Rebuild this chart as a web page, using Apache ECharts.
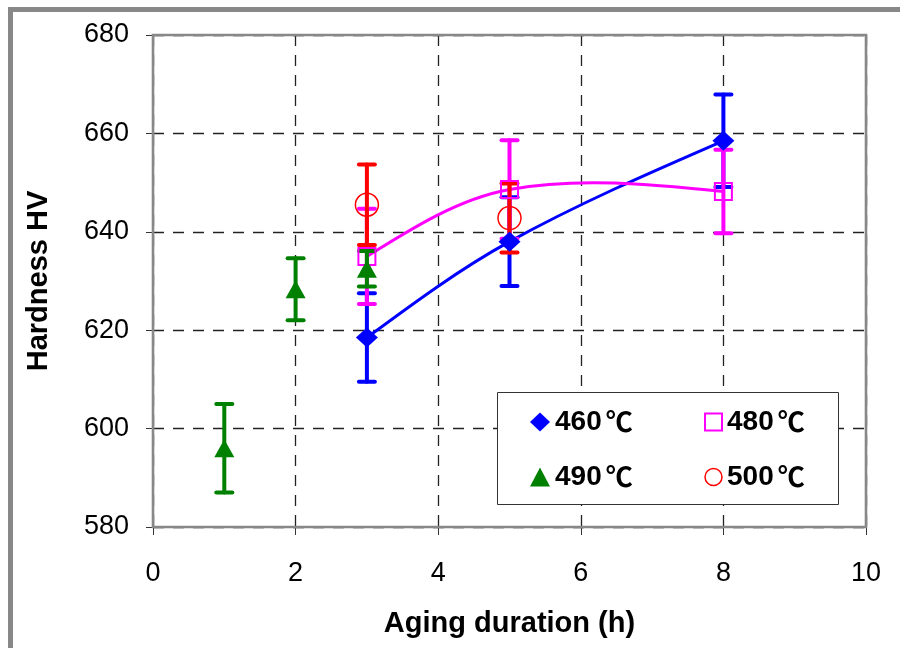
<!DOCTYPE html>
<html>
<head>
<meta charset="utf-8">
<script src="https://cdn.jsdelivr.net/npm/echarts@6/dist/echarts.min.js"></script>
<style>html,body{margin:0;padding:0;background:#fff}#c{width:900px;height:648px}</style>
</head>
<body>
<div id="c"></div>
<script>
// ---- data ----
const xTicks = [0, 2, 4, 6, 8, 10];
const yTicks = [580, 600, 620, 640, 660, 680];

const names = ['460℃', '480℃', '490℃', '500℃'];

const x460 = [3, 5, 8];
const y460 = [618.5, 638, 658.5];
const e460 = [9, 9, 9.4];

const x480 = [3, 5, 8];
const y480 = [635, 648.6, 648.2];
const e480 = [9.7, 10, 8.5];

const x490 = [1, 2, 3];
const y490 = [596, 628.3, 632.5];
const e490 = [9, 6.3, 3.6];

const x500 = [3, 5];
const y500 = [645.5, 642.8];
const e500 = [8.2, 7];

// ---- build ----
const pts = (xs, ys) => xs.map((x, i) => [x, ys[i]]);
const errs = (xs, ys, es) => xs.map((x, i) => [x, ys[i], es[i]]);

function errSeries(name, color, data) {
  return {
    type: 'custom',
    name: name + ' err',
    data: data,
    encode: { x: 0, y: 1 },
    z: 2,
    silent: true,
    renderItem: function (params, api) {
      const x = api.value(0), y = api.value(1), e = api.value(2);
      const top = api.coord([x, y + e]);
      const bot = api.coord([x, y - e]);
      const hw = 8;
      const st = { stroke: color, lineWidth: 4, lineCap: 'round' };
      return {
        type: 'group',
        children: [
          { type: 'line', shape: { x1: top[0], y1: top[1], x2: bot[0], y2: bot[1] }, style: st },
          { type: 'line', shape: { x1: top[0] - hw, y1: top[1], x2: top[0] + hw, y2: top[1] }, style: st },
          { type: 'line', shape: { x1: bot[0] - hw, y1: bot[1], x2: bot[0] + hw, y2: bot[1] }, style: st }
        ]
      };
    }
  };
}

// Excel-like smoothed line (spline through the data points, in pixel space)
function smoothSeries(name, color, xs, ys) {
  return {
    type: 'custom',
    name: name + ' line',
    data: pts(xs, ys),
    encode: { x: 0, y: 1 },
    z: 2,
    silent: true,
    renderItem: function (params, api) {
      const i = params.dataIndex;
      const n = xs.length;
      if (i >= n - 1) return null;
      const P = xs.map((x, k) => api.coord([x, ys[k]]));
      const sub = (a, b) => [a[0] - b[0], a[1] - b[1]];
      const len = (v) => Math.sqrt(v[0] * v[0] + v[1] * v[1]);
      function tan(j, dir) {
        if (j > 0 && j < n - 1) {
          const v = sub(P[j + 1], P[j - 1]);
          const d0 = len(sub(P[j], P[j - 1])), d1 = len(sub(P[j + 1], P[j]));
          const r = dir > 0 ? d1 / (d0 + d1) : d0 / (d0 + d1);
          return [v[0] * r, v[1] * r];
        }
        return null;
      }
      let t1 = tan(i, 1), t2 = tan(i + 1, -1);
      const seg = sub(P[i + 1], P[i]);
      if (!t1 && t2) t1 = [(3 * seg[0] - t2[0]) / 2, (3 * seg[1] - t2[1]) / 2];
      if (!t2 && t1) t2 = [(3 * seg[0] - t1[0]) / 2, (3 * seg[1] - t1[1]) / 2];
      if (!t1 && !t2) { t1 = seg; t2 = seg; }
      return {
        type: 'bezierCurve',
        shape: {
          x1: P[i][0], y1: P[i][1], x2: P[i + 1][0], y2: P[i + 1][1],
          cpx1: P[i][0] + t1[0] / 3, cpy1: P[i][1] + t1[1] / 3,
          cpx2: P[i + 1][0] - t2[0] / 3, cpy2: P[i + 1][1] - t2[1] / 3
        },
        style: { stroke: color, lineWidth: 3, fill: null }
      };
    }
  };
}

const chart = echarts.init(document.getElementById('c'), null, { renderer: 'canvas' });

const axisFont = { fontFamily: 'Liberation Sans, Arial, sans-serif', fontSize: 27, color: '#000' };
const nameFont = { fontFamily: 'Liberation Sans, Arial, sans-serif', fontSize: 29, fontWeight: 'bold', color: '#000' };
const legendText = {
  fontFamily: 'Liberation Sans, Arial, sans-serif', fontSize: 28, fontWeight: 'bold', color: '#000', lineHeight: 30,
  rich: {
    a: { fontFamily: 'Liberation Sans, Arial, sans-serif', fontSize: 28, fontWeight: 'bold', color: '#000', lineHeight: 30, padding: [0, 4, 0, 0] },
    b: { fontFamily: '"Noto Sans CJK SC", "DejaVu Sans", sans-serif', fontSize: 27, fontWeight: 'bold', color: '#000', lineHeight: 30 }
  }
};
const legendFmt = function (name) {
  const num = name.replace('℃', '');
  return '{a|' + num + '}{b|℃}';
};

const option = {
  backgroundColor: '#fff',
  animation: false,
  grid: { left: 153, top: 35, right: 34, bottom: 121, containLabel: false },
  graphic: [
    { type: 'rect', z: 100,
      shape: { x: 10.5, y: 9.5, width: 2000, height: 2000 },
      style: { fill: 'none', stroke: '#888', lineWidth: 5 } },
    { type: 'rect', z: 10,
      shape: { x: 153, y: 35, width: 713, height: 492 },
      style: { fill: 'none', stroke: '#888', lineWidth: 2.6 } },
    { type: 'rect', z: 11,
      shape: { x: 497.5, y: 392.5, width: 341, height: 112 },
      style: { fill: '#fff', stroke: '#333', lineWidth: 1 } }
  ],
  xAxis: {
    type: 'value', min: xTicks[0], max: xTicks[xTicks.length - 1], interval: 2,
    name: 'Aging duration (h)', nameLocation: 'middle', nameGap: 82, nameTextStyle: nameFont,
    axisLine: { show: false },
    axisTick: { show: true, length: 8, lineStyle: { color: '#333', width: 1 } },
    axisLabel: Object.assign({ margin: 33 }, axisFont),
    splitLine: { show: true, lineStyle: { color: '#222', width: 1.3, type: [11, 9] } }
  },
  yAxis: {
    type: 'value', min: yTicks[0], max: yTicks[yTicks.length - 1], interval: 20,
    name: 'Hardness HV', nameLocation: 'middle', nameGap: 100, nameRotate: 90, nameTextStyle: nameFont,
    axisLine: { show: false },
    axisTick: { show: true, length: 7, lineStyle: { color: '#333', width: 1 } },
    axisLabel: Object.assign({ margin: 24 }, axisFont),
    splitLine: { show: true, lineStyle: { color: '#222', width: 1.3, type: [11, 9] } }
  },
  legend: [
    {
      orient: 'vertical', left: 530, top: 407, padding: 0, itemGap: 25,
      itemWidth: 20, itemHeight: 19, selectedMode: false, z: 20,
      textStyle: legendText, formatter: legendFmt,
      data: [
        { name: names[0], icon: 'diamond', itemStyle: { color: '#0000ff', borderWidth: 0, opacity: 1 } },
        { name: names[2], icon: 'triangle', itemStyle: { color: '#008000', borderWidth: 0, opacity: 1 } }
      ]
    },
    {
      orient: 'vertical', left: 704, top: 407, padding: 0, itemGap: 25,
      itemWidth: 17, itemHeight: 17, selectedMode: false, z: 20,
      textStyle: legendText, formatter: legendFmt,
      data: [
        { name: names[1], icon: 'rect', itemStyle: { color: '#fff', borderColor: '#ff00ff', borderWidth: 2, opacity: 1 } },
        { name: names[3], icon: 'circle', itemStyle: { color: '#fff', borderColor: '#ff0000', borderWidth: 1.5, opacity: 1 } }
      ]
    }
  ],
  series: [
    errSeries(names[0], '#0000ff', errs(x460, y460, e460)),
    smoothSeries(names[0], '#0000ff', x460, y460),
    {
      type: 'scatter', name: names[0], data: pts(x460, y460), z: 3,
      symbol: 'diamond', symbolSize: [22, 20],
      itemStyle: { color: '#0000ff', opacity: 1 }
    },
    errSeries(names[1], '#ff00ff', errs(x480, y480, e480)),
    smoothSeries(names[1], '#ff00ff', x480, y480),
    {
      type: 'scatter', name: names[1], data: pts(x480, y480), z: 3,
      symbol: 'rect', symbolSize: 17,
      itemStyle: { color: 'rgba(0,0,0,0)', borderColor: '#ff00ff', borderWidth: 2, opacity: 1 }
    },
    errSeries(names[2], '#008000', errs(x490, y490, e490)),
    {
      type: 'scatter', name: names[2], data: pts(x490, y490), z: 3,
      symbol: 'triangle', symbolSize: [20, 18],
      itemStyle: { color: '#008000', opacity: 1 }
    },
    errSeries(names[3], '#ff0000', errs(x500, y500, e500)),
    {
      type: 'scatter', name: names[3], data: pts(x500, y500), z: 3,
      symbol: 'circle', symbolSize: 23,
      itemStyle: { color: 'rgba(0,0,0,0)', borderColor: '#ff0000', borderWidth: 1.5, opacity: 1 }
    }
  ]
};
chart.setOption(option);
</script>
</body>
</html>
